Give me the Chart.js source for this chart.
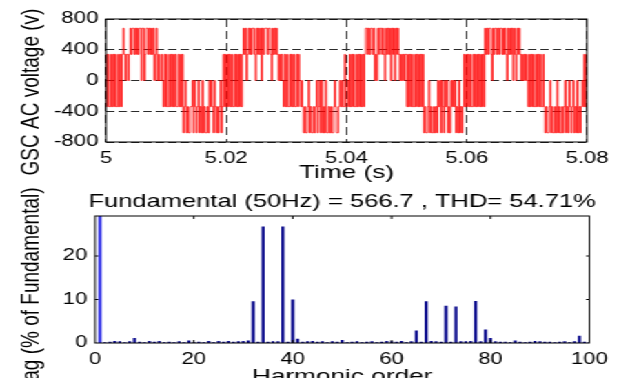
<!DOCTYPE html>
<html><head><meta charset="utf-8">
<script src="https://cdn.jsdelivr.net/npm/chart.js@4.4.1/dist/chart.umd.min.js"></script>
<style>
html,body{margin:0;padding:0;background:#fff;overflow:hidden;width:630px;height:378px;}
#stage{position:absolute;left:0;top:0;width:457px;height:400px;transform-origin:0 0;transform:scaleX(1.3786);}
#w1{position:absolute;left:0;top:0;width:457px;height:190px;}
#w2{position:absolute;left:0;top:180px;width:457px;height:215px;}
canvas{display:block;}
</style></head>
<body>
<div id="stage">
<div id="w1"><canvas id="c1" width="457" height="190"></canvas></div>
<div id="w2"><canvas id="c2" width="457" height="215"></canvas></div>
</div>
<script>
// ---------- DATA ----------
// Top plot: GSC AC voltage (V), time axis 5 .. 5.08 s
const timeStart = 5;
const timeEnd = 5.08;
const xTicksTop = [5, 5.02, 5.04, 5.06, 5.08];
const xTickLabelsTop = ['5', '5.02', '5.04', '5.06', '5.08'];
const yTicksTop = [-800, -400, 0, 400, 800];
const yTickLabelsTop = ['-800', '-400', '0', '400', '800'];
// voltage levels of the PWM phase voltage
const levelCodes = ['a', 'b', 'c', 'd', 'e'];
const levelValues = [-680, -340, 0, 340, 680];
// level held in each ~0.167 ms step, one string per 20 ms period
const wavePeriodCodes = [
  'dbdbbdbdbdbbdbdbd' + 'e' + 'dcddcd' + 'edeededede' + 'eceec' + 'deededed' + 'ecdec' + 'dccdc' +
  'bdbdbbdbdbdbdbbdbdbd' + 'abcabaab' + 'bcacbabc' + 'abacabaaba' + 'cbcbacb' + 'ababcab' + 'dbd',
  'bdbdbdbbdbdbdbdbd' + 'e' + 'decded' + 'edeedceded' + 'ecede' + 'eedeedce' + 'deded' + 'cdcdc' +
  'bdbdbbdbdbdbbdbd' + 'cbcb' + 'abaabcab' + 'aababcab' + 'cacabacaab' + 'abaabcb' + 'aabcbcb' + 'bdb',
  'bcbdbdbdbbdbdbdbdbd' + 'e' + 'ededeedecdcedeededceded' + 'ecedecede' + 'dcdcdcdd' +
  'bdbdbdbbdbdbdbdbd' + 'abaabcabaababa' + 'cbcacbacbcaba' + 'cbcbcabacabab' + 'dbd',
  'bdbdbbdbdbdbdbdbdb' + 'e' + 'dedeedcedeededeedededceded' + 'ecedcededcdcdcdc' +
  'bdbdbdbbdbdbdbbdb' + 'abaabcabaabacabaabab' + 'cabacbabcabacababc' + 'bdbd'
];

// Bottom plot: harmonic spectrum, Mag (% of fundamental), orders 0..100
const harmonicOrders = Array.from({length: 101}, (_, i) => i);
const harmonicMag = [
  0, 100, 0.1, 0.2, 0.4, 0.3, 0.1, 0.3, 1.1, 0.2,
  0.1, 0.4, 0.2, 0.4, 0.1, 0.2, 0.1, 0.3, 0.1, 0.5,
  0.1, 0.2, 0.1, 0.4, 0.1, 0.4, 0.2, 0.4, 0.2, 0.3,
  0.4, 0.5, 9.5, 0.2, 26.7, 0.2, 0.3, 0.3, 26.7, 0.2,
  9.9, 0.9, 0.2, 0.3, 0.4, 0.2, 0.3, 0.1, 0.3, 0.2,
  0.6, 0.1, 0.2, 0.3, 0.1, 0.2, 0.3, 0.1, 0.2, 0.4,
  0.3, 0.2, 0.4, 0.1, 0.3, 2.8, 0.2, 9.5, 0.4, 0.3,
  0.2, 8.5, 0.2, 8.3, 0.3, 0.3, 0.4, 9.6, 0.3, 3.0,
  1.1, 0.3, 0.2, 0.2, 0.1, 0.5, 0.2, 0.1, 0.2, 0.4,
  0.3, 0.2, 0.2, 0.1, 0.2, 0.3, 0.1, 0.3, 1.6, 0.2,
  0.1
];
const xTicksBottom = [0, 20, 40, 60, 80, 100];
const xTickLabelsBottom = ['0', '20', '40', '60', '80', '100'];
const yTicksBottom = [0, 10, 20];
const yTickLabelsBottom = ['0', '10', '20'];
const yMaxBottom = 29.2;
const spectrumTitle = 'Fundamental (50Hz) = 566.7 , THD= 54.71%';
const topYTitle = 'GSC AC voltage (v)';
const bottomYTitle = 'Mag (% of Fundamental)';

// ---------- BUILD ----------
const FONT = "'Liberation Sans', Arial, Helvetica, sans-serif";
const codes = wavePeriodCodes.join('');
const nSamp = codes.length;
const waveData = [];
for (let i = 0; i < nSamp; i++) {
  waveData.push({x: timeStart + (timeEnd - timeStart) * i / nSamp, y: levelValues[levelCodes.indexOf(codes[i])]});
}
waveData.push({x: timeEnd, y: levelValues[levelCodes.indexOf(codes[nSamp - 1])]});

const boxPlugin = {
  id: 'box',
  afterDatasetsDraw(chart, args, opts) {
    const {ctx, chartArea: a, scales} = chart;
    ctx.save();
    ctx.strokeStyle = '#000';
    ctx.lineWidth = 1;
    if (opts.ticks) {
      const xs = scales.x, ys = scales.y;
      ctx.beginPath();
      xs.ticks.forEach(t => {
        const px = xs.getPixelForValue(t.value);
        if (px <= a.left + 1 || px >= a.right - 1) return;
        ctx.moveTo(px, a.bottom); ctx.lineTo(px, a.bottom - opts.len);
        ctx.moveTo(px, a.top); ctx.lineTo(px, a.top + opts.len);
      });
      ys.ticks.forEach(t => {
        const py = ys.getPixelForValue(t.value);
        if (py >= a.bottom - 1 || py <= a.top + 1) return;
        ctx.moveTo(a.left, py); ctx.lineTo(a.left + opts.hlen, py);
        ctx.moveTo(a.right, py); ctx.lineTo(a.right - opts.hlen, py);
      });
      ctx.stroke();
    }
    ctx.strokeRect(a.left, a.top, a.right - a.left, a.bottom - a.top);
    ctx.restore();
  }
};

const titlePlugin = {
  id: 'ctitle',
  afterDraw(chart, args, opts) {
    const {ctx, chartArea: a} = chart;
    ctx.save();
    ctx.fillStyle = '#000';
    ctx.textAlign = 'center';
    ctx.textBaseline = 'middle';
    if (opts.text) {
      ctx.font = opts.size + 'px ' + FONT;
      ctx.fillText(opts.text, (a.left + a.right) / 2, opts.y);
    }
    if (opts.yText) {
      ctx.font = opts.ySize + 'px ' + FONT;
      ctx.translate(opts.yx, opts.yy);
      ctx.rotate(-Math.PI / 2);
      ctx.fillText(opts.yText, 0, 0);
    }
    ctx.restore();
  }
};

new Chart(document.getElementById('c1'), {
  type: 'line',
  data: {datasets: [{
    data: waveData, borderColor: '#ff0000', borderWidth: 0.8, pointRadius: 0,
    stepped: true, fill: false, tension: 0
  }]},
  options: {
    responsive: false, animation: false, devicePixelRatio: 1, parsing: false, normalized: true,
    layout: {padding: {left: 0, right: 31.2, top: 19, bottom: 0}},
    plugins: {legend: {display: false}, tooltip: {enabled: false}, box: {ticks: false},
      ctitle: {yText: topYTitle, ySize: 19, yx: 23, yy: 92}},
    scales: {
      x: {
        type: 'linear', min: timeStart, max: timeEnd,
        afterBuildTicks: s => { s.ticks = xTicksTop.map(v => ({value: v})); },
        afterFit: s => { s.height = 48; },
        grid: {color: '#2b2b2b', lineWidth: 1, drawTicks: false},
        border: {display: false, dash: [8, 4]},
        ticks: {
          autoSkip: false, maxRotation: 0, padding: 7, color: '#000',
          font: {family: FONT, size: 16},
          callback: (v, i) => xTickLabelsTop[i]
        },
        title: {display: true, text: 'Time (s)', color: '#000', font: {family: FONT, size: 19}, padding: {top: 0, bottom: 5.6}}
      },
      y: {
        type: 'linear', min: -800, max: 800,
        afterBuildTicks: s => { s.ticks = yTicksTop.map(v => ({value: v})); },
        afterFit: s => { s.width = 76.9; },
        grid: {color: '#2b2b2b', lineWidth: 1, drawTicks: false},
        border: {display: false, dash: [6, 3]},
        ticks: {
          padding: 5.6, color: '#000', font: {family: FONT, size: 16},
          callback: (v, i) => yTickLabelsTop[i]
        },
        title: {display: false}
      }
    }
  },
  plugins: [boxPlugin, titlePlugin]
});

new Chart(document.getElementById('c2'), {
  type: 'bar',
  data: {datasets: [{
    data: harmonicOrders.map((h, i) => ({x: h, y: harmonicMag[i]})),
    backgroundColor: harmonicOrders.map(h => h === 1 ? '#2f2fe8' : '#0b0b8c'),
    barThickness: 1.6, borderWidth: 0, grouped: false
  }]},
  options: {
    responsive: false, animation: false, devicePixelRatio: 1,
    layout: {padding: {left: 0, right: 29.5, top: 36, bottom: 0}},
    plugins: {legend: {display: false}, tooltip: {enabled: false},
      box: {ticks: true, len: 3, hlen: 2.4},
      ctitle: {text: spectrumTitle, size: 18.5, y: 21.7, yText: bottomYTitle, ySize: 19, yx: 23, yy: 112}},
    scales: {
      x: {
        type: 'linear', min: 0, max: 100, offset: false,
        afterBuildTicks: s => { s.ticks = xTicksBottom.map(v => ({value: v})); },
        afterFit: s => { s.height = 52; },
        grid: {display: false, offset: false, drawTicks: false},
        border: {display: false},
        ticks: {
          autoSkip: false, maxRotation: 0, padding: 7, color: '#000',
          font: {family: FONT, size: 16},
          callback: (v, i) => xTickLabelsBottom[i]
        },
        title: {display: true, text: 'Harmonic order', color: '#000', font: {family: FONT, size: 19}, padding: {top: 0, bottom: 6.6}}
      },
      y: {
        type: 'linear', min: 0, max: yMaxBottom,
        afterBuildTicks: s => { s.ticks = yTicksBottom.map(v => ({value: v})); },
        afterFit: s => { s.width = 68.9; },
        grid: {display: false, drawTicks: false},
        border: {display: false},
        ticks: {
          padding: 5.6, color: '#000', font: {family: FONT, size: 16},
          callback: (v, i) => yTickLabelsBottom[i]
        },
        title: {display: false}
      }
    }
  },
  plugins: [boxPlugin, titlePlugin]
});
</script>
</body></html>
